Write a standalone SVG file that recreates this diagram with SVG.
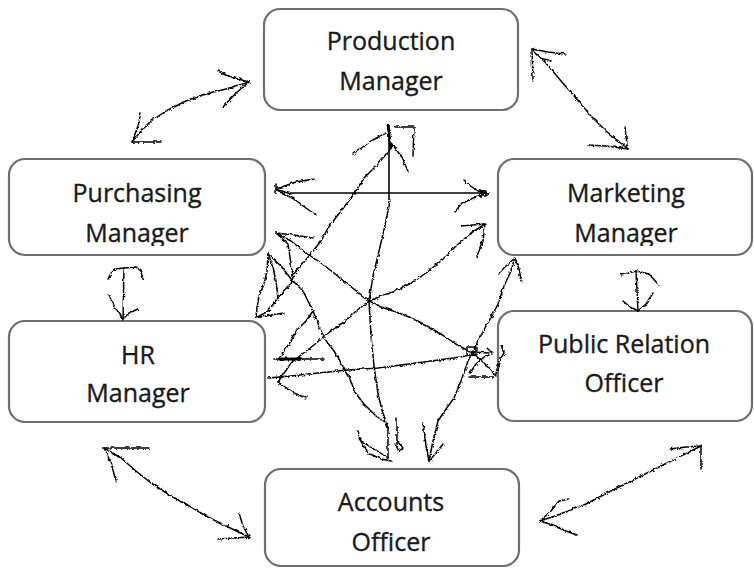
<svg xmlns="http://www.w3.org/2000/svg" width="754" height="568" viewBox="0 0 754 568">
<defs>
<style>
.box{fill:#ffffff;stroke:#6f6f6f;stroke-width:2.2}
.lbl{font-family:"Open Sans","Noto Sans","Liberation Sans",sans-serif;font-size:25px;fill:#1a1a1a;stroke:#1a1a1a;stroke-width:0.35;text-anchor:middle}
.ln{fill:none;stroke:#000;stroke-width:1.5;stroke-linejoin:round;stroke-linecap:round}
.st{fill:none;stroke:#000;stroke-width:1.6}
</style>
<filter id="rough" filterUnits="userSpaceOnUse" x="0" y="0" width="754" height="568">
<feTurbulence type="turbulence" baseFrequency="0.18" numOctaves="1" seed="3" result="n"/>
<feDisplacementMap in="SourceGraphic" in2="n" scale="3" xChannelSelector="R" yChannelSelector="G"/>
</filter>
<clipPath id="clipPurch"><rect x="9" y="158" width="256" height="88"/></clipPath>
<clipPath id="clipMkt"><rect x="498" y="158" width="254" height="88"/></clipPath>
</defs>
<rect width="754" height="568" fill="#ffffff"/>

<g id="production-manager">
<rect class="box" x="264" y="9" width="254" height="101" rx="16"/>
<text class="lbl" x="391" y="50">Production</text>
<text class="lbl" x="391" y="90">Manager</text>
</g>
<g id="purchasing-manager">
<rect class="box" x="9" y="159" width="256" height="96" rx="16"/>
<g clip-path="url(#clipPurch)">
<text class="lbl" x="137" y="202">Purchasing</text>
<text class="lbl" x="137" y="242">Manager</text>
</g>
</g>
<g id="marketing-manager">
<rect class="box" x="498" y="159" width="254" height="96" rx="16"/>
<g clip-path="url(#clipMkt)">
<text class="lbl" x="626" y="202">Marketing</text>
<text class="lbl" x="626" y="242">Manager</text>
</g>
</g>
<g id="hr-manager">
<rect class="box" x="9" y="321" width="256" height="101" rx="16"/>
<text class="lbl" x="138" y="364">HR</text>
<text class="lbl" x="138" y="402">Manager</text>
</g>
<g id="public-relation-officer">
<rect class="box" x="498" y="311" width="254" height="110" rx="16"/>
<text class="lbl" x="624" y="353">Public Relation</text>
<text class="lbl" x="624" y="392">Officer</text>
</g>
<g id="accounts-officer">
<rect class="box" x="265" y="469" width="254" height="97" rx="16"/>
<text class="lbl" x="391" y="511">Accounts</text>
<text class="lbl" x="391" y="551">Officer</text>
</g>

<g id="connectors">
<path class="st" d="M290,193 H487"/>
<path class="st" d="M389,125 V200"/>
<g filter="url(#rough)">
<path class="ln" d="M248,81 L225,88 L205,93 L185,100 L165,110 L150,120 L140,130 L131,141"/>
<path class="ln" d="M248,81 L230,76 L217,70 M248,81 L235,92 L222,106 M131,141 L160,141 M131,141 L137,125 L140,112"/>
<path class="ln" d="M531,48 L545,62 L560,80 L575,97 L590,115 L605,130 L627,148"/>
<path class="ln" d="M531,48 L547,51 L564,53 M531,48 L532,80 M627,148 L605,145 L587,144 M627,148 L625,136 L624,126 M540,57 L550,60"/>
<path class="ln" d="M275,188 L290,193 M275,188 L295,181 L313,178 M275,189 L293,198 L305,207 L315,214 M275,183 L275,192"/>
<path class="ln" d="M487,193 L477,190 L468,184 L463,180 M482,193 L470,198 L460,203 L454,211 M478,190 L485,190 L485,195 L478,195"/>
<path class="ln" d="M123,267 L122,318"/>
<path class="ln" d="M123,267 L115,268 L110,272 L107,278 M123,267 L135,266 L140,270 L142,278 M122,318 L115,308 L108,295 M122,318 L128,312 L137,308"/>
<path class="ln" d="M635,270 L637,310"/>
<path class="ln" d="M635,270 L620,274 M635,270 L648,273 L657,283 M637,310 L628,305 L622,300 M637,310 L645,303 L652,292"/>
<path class="ln" d="M103,447 L120,457 L135,470 L150,482 L170,495 L185,503 L205,515 L225,525 L248,536"/>
<path class="ln" d="M103,447 L148,447 M103,447 L110,462 L115,480 M248,536 L217,538 M248,536 L242,525 L238,512"/>
<path class="ln" d="M539,520 L560,513 L585,503 L610,490 L640,475 L670,460 L700,445"/>
<path class="ln" d="M539,520 L550,510 L558,500 L568,498 M539,520 L555,525 L565,530 L576,534 M700,445 L685,446 L669,448 M700,445 L700,469"/>
<path class="ln" d="M389,200 L385,220 L378,250 L372,275 L368,300 L370,335 L373,365 L377,393 L382,413 L387,427 L387,457"/>
<path class="ln" d="M385,132 L370,140 L352,153 M391,143 L400,155 L407,170 M393,126 L413,126 L412,155"/>
<path class="ln" d="M387,125 L390,147" style="stroke-width:2.6"/>
<path class="ln" d="M390,147 L377,163 L363,177 L353,193 L340,210 L327,227 L320,240 L308,255 L293,273 L290,283 L277,297 L267,310 L255,317"/>
<path class="ln" d="M267,253 L280,265 L290,278 L302,290 L312,310 L318,325 L323,337 L333,350 L340,362 L348,375 L353,390 L363,403 L375,415 L387,423"/>
<path class="ln" d="M387,457 L375,449 L360,440 L357,430 M390,460 L380,458 L367,452 L358,437 M396,417 L396,443 M396,440 L402,447 L398,450 L394,443"/>
<path class="ln" d="M275,232 L290,240 L305,252 L320,262 L333,272 L345,282 L358,292 L368,300 L383,307 L398,312 L413,318 L428,326 L443,335 L458,345 L472,352"/>
<path class="ln" d="M275,232 L293,234 L312,237 M275,232 L287,243 L290,263 L292,275"/>
<path class="ln" d="M484,223 L470,232 L455,245 L440,260 L425,272 L410,282 L395,290 L380,295 L368,300 L355,310 L343,322 L330,330 L322,336 L313,344 L300,354 L290,362 L277,381"/>
<path class="ln" d="M484,223 L460,225 M484,223 L482,240 L478,250 L475,257 M277,381 L293,392 L305,397"/>
<path class="ln" d="M273,358 L323,358"/>
<path class="ln" d="M278,358 L300,358" style="stroke-width:2.8"/>
<path class="ln" d="M312,310 L305,320 L297,328 L290,340 L283,350 L278,358"/>
<path class="ln" d="M267,253 L266,270 L263,283 L258,295 L256,307 L255,317"/>
<path class="ln" d="M255,317 L270,314 L283,312 M267,253 L272,267 L275,280 L277,297"/>
<path class="ln" d="M267,377 L290,375 L317,372 L347,369 L377,367 L400,364 L430,360 L460,356 L472,353"/>
<path class="ln" d="M472,351 L488,352 M466,346 L475,346 L475,354 L466,354 Z M472,352 L483,362 L495,375 M469,372 L475,363 L483,356 L488,354 M468,376 L493,376 M491,352 L486,347 M500,345 L503,352 L498,360 L495,373"/>
<path class="ln" d="M428,460 L432,440 L437,420 L445,408 L453,397 L460,380 L467,360 L472,350 L477,340 L485,325 L492,313 L497,303 L503,285 L510,270 L514,257"/>
<path class="ln" d="M428,460 L425,445 L422,422 M428,460 L435,452 L442,443 M514,257 L505,265 L498,272 M514,257 L518,268 L520,280"/>
</g>
</g>
</svg>
